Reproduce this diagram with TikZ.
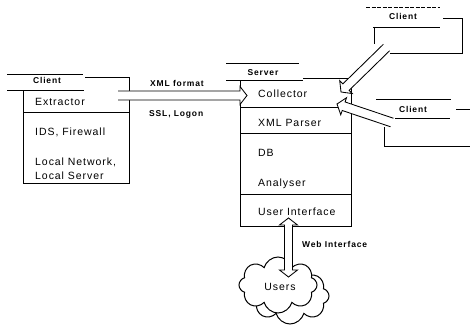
\documentclass[tikz,border=0pt]{standalone}
\usepackage{fontspec}
\setmainfont{Liberation Sans}
\newfontfamily\bodyf[LetterSpace=9]{Liberation Sans}
\newfontfamily\labf[LetterSpace=10]{Liberation Sans Bold}
\usetikzlibrary{calc,shapes.symbols}
\tikzset{
  ln/.style={line width=0.85pt},
  body/.style={inner sep=0pt, font=\fontsize{10.5}{12}\bodyf, anchor=base west},
  lab/.style={inner sep=0pt, font=\fontsize{8.5}{10}\labf, anchor=base},
  harr/.style={line width=0.85pt, fill=white, line join=miter},
  puff/.style={cloud, cloud puffs=8, cloud puff arc=150, aspect=1.4, draw, line width=1pt, fill=white, inner sep=0pt, minimum width=78pt, minimum height=56pt},
}
\newcommand\hollowarrow[2]{%
  \coordinate (hb) at ($(#2)!7pt!(#1)$);
  \draw[harr] ($(#1)!4.5pt!90:(#2)$) -- ($(hb)!4.5pt!-90:(#1)$) -- ($(hb)!9pt!-90:(#1)$) -- (#2) -- ($(hb)!9pt!90:(#1)$) -- ($(hb)!4.5pt!90:(#1)$) -- ($(#1)!4.5pt!-90:(#2)$);
}
\newcommand\hollowdarrow[2]{%
  \coordinate (ha) at ($(#1)!7pt!(#2)$);
  \coordinate (hb) at ($(#2)!7pt!(#1)$);
  \draw[harr] (#1) -- ($(ha)!9pt!90:(#2)$) -- ($(ha)!4pt!90:(#2)$) -- ($(hb)!4pt!-90:(#1)$) -- ($(hb)!9pt!-90:(#1)$) -- (#2) -- ($(hb)!9pt!90:(#1)$) -- ($(hb)!4pt!90:(#1)$) -- ($(ha)!4pt!-90:(#2)$) -- ($(ha)!9pt!-90:(#2)$) -- cycle;
}
\begin{document}
\begin{tikzpicture}[x=1pt,y=-1pt]
\useasboundingbox (0,0) rectangle (470,326);

% ---------- left client ----------
\draw[ln] (7,74) -- (83,74);
\draw[ln] (7,90) -- (84,90);
\draw[ln] (85,77.5) -- (129,77.5) -- (129,183) -- (23,183) -- (23,90);
\draw[ln] (23,112) -- (129,112);
\node[lab] (cl) at (47,84) {Client};
\node[body] (ext) at (35,105) {Extractor};
\node[body] (ids) at (35,135) {IDS, Firewall};
\node[body] (ln1) at (35,165) {Local Network,};
\node[body] (ln2) at (35,179) {Local Server};

% ---------- server ----------
\draw[ln] (226,63) -- (299,63);
\draw[ln] (226,80) -- (303,80);
\draw[ln] (303,78) -- (351,78) -- (351,226) -- (240,226) -- (240,80);
\draw[ln] (240,107) -- (351,107);
\draw[ln] (240,133) -- (351,133);
\draw[ln] (240,194) -- (351,194);
\node[lab] (srv) at (263,75.5) {Server};
\node[body] (col) at (258,97) {Collector};
\node[body] (xml) at (258,126) {XML Parser};
\node[body] (db) at (258,156) {DB};
\node[body] (ana) at (258,186) {Analyser};
\node[body] (ui) at (258,215) {User Interface};

% ---------- upper right client ----------
\draw[ln, dash pattern=on 4pt off 1.5pt] (366,7) -- (440,7);
\draw[ln] (373,27) -- (440,27);
\draw[ln] (443,18) -- (462,18) -- (462,53) -- (390,53);
\draw[ln] (374,27) -- (374,44);
\node[lab] (c2) at (403,20) {Client};

% ---------- lower right client ----------
\draw[ln] (376,99) -- (451,99);
\draw[ln] (395,118) -- (450,118);
\draw[ln] (456,109) -- (470,109);
\draw[ln] (384,127) -- (384,146) -- (470,146);
\node[lab] (c3) at (413,112.5) {Client};

% ---------- arrows ----------
\coordinate (a1s) at (118,95.5);
\coordinate (a1t) at (247,95.5);
\hollowarrow{a1s}{a1t}
\node[lab, anchor=base west] (xf) at (150,86) {XML format};
\node[lab, anchor=base west] (ssl) at (149,116) {SSL, Logon};

\coordinate (a2s) at (386.5,47.5);
\coordinate (a2t) at (341,92);
\hollowarrow{a2s}{a2t}

\coordinate (a3s) at (392,122.5);
\coordinate (a3t) at (337,104);
\hollowarrow{a3s}{a3t}

% ---------- users ----------
\node[puff] (cloudb) at (290,296) {};
\node[puff] (cloudf) at (278,285) {};
\node[body, anchor=base] (users) at (280,290) {Users};

\coordinate (wt) at (288.5,218);
\coordinate (wb) at (288.5,277);
\hollowdarrow{wt}{wb}
\node[lab, anchor=base west] (web) at (302,247.5) {Web Interface};
\end{tikzpicture}
\end{document}
